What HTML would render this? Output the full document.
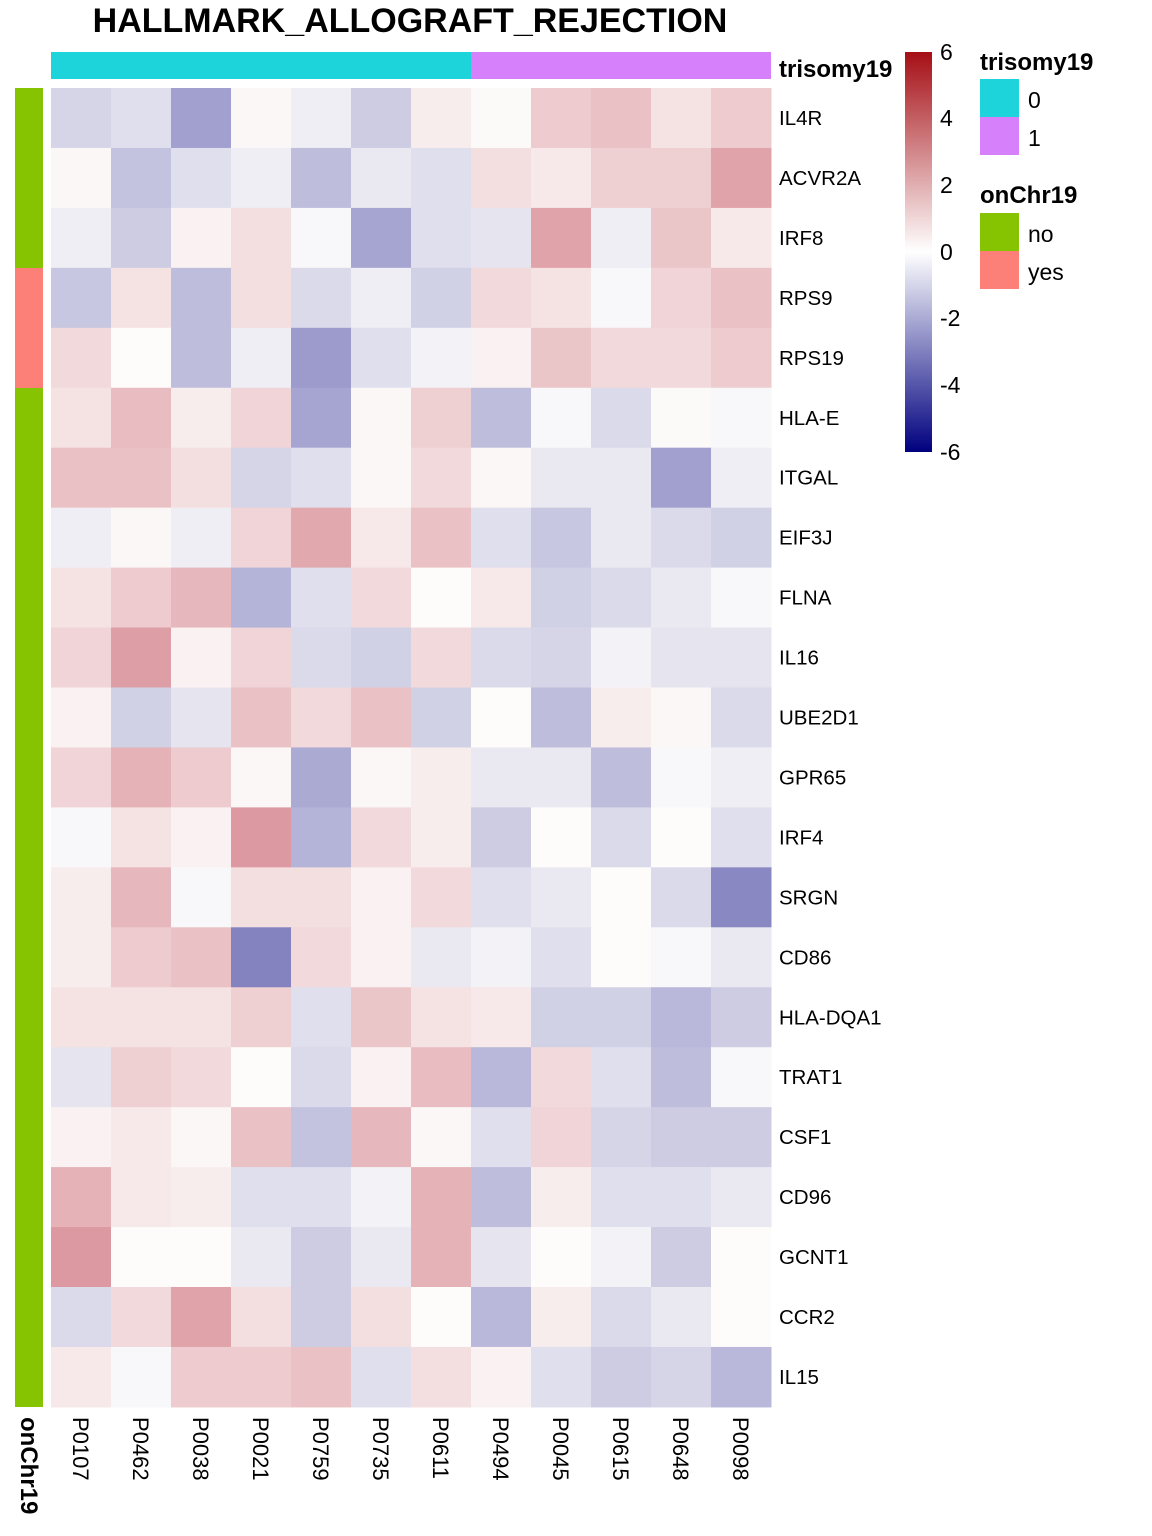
<!DOCTYPE html>
<html><head><meta charset="utf-8"><style>
body{margin:0;background:#fff}
svg{display:block;font-family:"Liberation Sans",Arial,sans-serif}
</style></head><body>
<svg id="s" width="1152" height="1536" xmlns="http://www.w3.org/2000/svg">
<defs>
<linearGradient id="cb" x1="0" y1="0" x2="0" y2="1">
<stop offset="0" stop-color="#a50f15"/><stop offset="0.5" stop-color="#ffffff"/><stop offset="1" stop-color="#00007f"/>
</linearGradient>
</defs>
<text x="410" y="32" font-size="34" font-weight="bold" text-anchor="middle">HALLMARK_ALLOGRAFT_REJECTION</text>
<rect x="51" y="52" width="420" height="27" fill="#1cd4da"/>
<rect x="471" y="52" width="300" height="27" fill="#d780fc"/>
<text x="779" y="77" font-size="24" font-weight="bold">trisomy19</text>
<rect x="15" y="88" width="28" height="180" fill="#86c300"/>
<rect x="15" y="268" width="28" height="120" fill="#fc7f78"/>
<rect x="15" y="388" width="28" height="1019" fill="#86c300"/>
<g id="cells"></g>
<g font-size="20.5" id="rl"></g>
<g font-size="22" id="cl"></g>
<text transform="translate(21,1417) rotate(90)" font-size="24" font-weight="bold">onChr19</text>
<rect x="905" y="52" width="27" height="400" fill="url(#cb)"/>
<g font-size="23">
<text x="940" y="60">6</text><text x="940" y="126">4</text><text x="940" y="193">2</text><text x="940" y="260">0</text>
<text x="940" y="326">-2</text><text x="940" y="393">-4</text><text x="940" y="460">-6</text>
</g>
<text x="980" y="70" font-size="24" font-weight="bold">trisomy19</text>
<rect x="980" y="79" width="39" height="38" fill="#1cd4da"/><text x="1028" y="108" font-size="23">0</text>
<rect x="980" y="117" width="39" height="38" fill="#d780fc"/><text x="1028" y="146" font-size="23">1</text>
<text x="980" y="203" font-size="24" font-weight="bold">onChr19</text>
<rect x="980" y="213" width="39" height="38" fill="#86c300"/><text x="1028" y="242" font-size="23">no</text>
<rect x="980" y="251" width="39" height="38" fill="#fc7f78"/><text x="1028" y="280" font-size="23">yes</text>
</svg>
<script>
var rows=["IL4R","ACVR2A","IRF8","RPS9","RPS19","HLA-E","ITGAL","EIF3J","FLNA","IL16","UBE2D1","GPR65","IRF4","SRGN","CD86","HLA-DQA1","TRAT1","CSF1","CD96","GCNT1","CCR2","IL15"];
var cols=["P0107","P0462","P0038","P0021","P0759","P0735","P0611","P0494","P0045","P0615","P0648","P0098"];
var v=[
[-0.8,-0.6,-1.9,0.1,-0.3,-1.0,0.3,0.05,1.0,1.2,0.5,1.0],
[0.1,-1.2,-0.6,-0.3,-1.3,-0.4,-0.6,0.6,0.4,0.9,0.9,1.8],
[-0.3,-1.0,0.2,0.6,-0.1,-1.8,-0.6,-0.5,1.8,-0.3,1.1,0.4],
[-1.1,0.5,-1.3,0.6,-0.7,-0.3,-0.9,0.7,0.5,-0.1,0.8,1.2],
[0.7,0,-1.3,-0.3,-2.0,-0.6,-0.2,0.2,1.1,0.7,0.7,1.0],
[0.5,1.3,0.3,0.8,-1.8,0.1,0.9,-1.3,-0.1,-0.7,0.05,-0.1],
[1.2,1.2,0.6,-0.8,-0.6,0.1,0.7,0.1,-0.4,-0.4,-1.9,-0.3],
[-0.3,0.1,-0.3,0.8,1.7,0.4,1.2,-0.6,-1.1,-0.4,-0.7,-0.9],
[0.5,1.0,1.4,-1.5,-0.6,0.7,0,0.4,-0.9,-0.7,-0.4,-0.1],
[0.8,1.9,0.2,0.8,-0.7,-0.9,0.7,-0.7,-0.8,-0.2,-0.5,-0.5],
[0.2,-0.9,-0.5,1.2,0.7,1.2,-0.9,0,-1.3,0.3,0.1,-0.7],
[0.8,1.5,1.0,0.1,-1.7,0.1,0.3,-0.4,-0.4,-1.3,-0.1,-0.3],
[-0.1,0.5,0.2,2.0,-1.5,0.7,0.3,-1.0,0,-0.7,0,-0.6],
[0.3,1.4,-0.1,0.6,0.6,0.2,0.7,-0.6,-0.4,0,-0.7,-2.4],
[0.3,1.0,1.2,-2.5,0.7,0.2,-0.4,-0.2,-0.6,0,-0.1,-0.4],
[0.5,0.5,0.5,0.9,-0.6,1.1,0.5,0.4,-0.9,-0.9,-1.4,-1.0],
[-0.5,0.9,0.7,0,-0.7,0.2,1.3,-1.4,0.7,-0.6,-1.3,-0.1],
[0.2,0.4,0.1,1.2,-1.2,1.4,0.1,-0.6,0.8,-0.8,-1.0,-1.0],
[1.5,0.4,0.3,-0.6,-0.6,-0.2,1.5,-1.3,0.3,-0.6,-0.6,-0.4],
[2.0,0,0,-0.4,-1.0,-0.4,1.5,-0.5,0,-0.2,-1.0,0],
[-0.7,0.7,1.8,0.6,-1.0,0.6,0,-1.4,0.3,-0.7,-0.4,0],
[0.4,-0.1,1.0,1.0,1.2,-0.6,0.6,0.2,-0.6,-1.0,-0.8,-1.4]];
function col(x){var t,r,g,b;if(x>=0){x*=1.3;t=Math.min(x/6,1);r=253+(178-253)*t;g=252+(24-252)*t;b=251+(43-251)*t;}else{x*=1.15;t=Math.min(-x/6,1);r=253-253*t;g=252-252*t;b=251-123*t;}return "rgb("+Math.round(r)+","+Math.round(g)+","+Math.round(b)+")";}
var ns="http://www.w3.org/2000/svg",c=document.getElementById("cells"),rl=document.getElementById("rl"),cl=document.getElementById("cl");
for(var i=0;i<22;i++){for(var j=0;j<12;j++){var e=document.createElementNS(ns,"rect");e.setAttribute("x",51+j*60);e.setAttribute("y",88+i*59.95);e.setAttribute("width",60.5);e.setAttribute("height",60.5);e.setAttribute("fill",col(v[i][j]));c.appendChild(e);}
var t=document.createElementNS(ns,"text");t.setAttribute("x",779);t.setAttribute("y",88+i*59.95+37);t.textContent=rows[i];rl.appendChild(t);}
for(var j=0;j<12;j++){var t=document.createElementNS(ns,"text");t.setAttribute("transform","translate("+(73+j*60)+",1417) rotate(90)");t.textContent=cols[j];cl.appendChild(t);}
</script>
</body></html>
